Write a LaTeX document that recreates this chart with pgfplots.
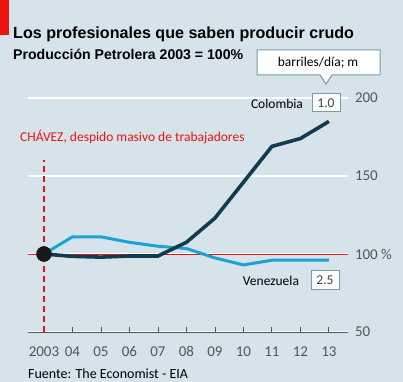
\documentclass[border=0pt]{standalone}
\usepackage{pgfplots}
\pgfplotsset{compat=1.18}
\usepackage{fontspec}
\setmainfont{Carlito}
\newfontfamily\arialfont{Liberation Sans}
\definecolor{bg}{RGB}{214,227,235}
\definecolor{colo}{RGB}{16,60,78}
\definecolor{vene}{RGB}{28,163,214}
\definecolor{ecored}{RGB}{235,20,15}
\definecolor{tickgray}{RGB}{85,85,85}
\definecolor{boxborder}{RGB}{120,155,170}
\begin{document}
\begin{tikzpicture}[x=1bp,y=1bp]
\useasboundingbox (0,0) rectangle (403,382);
\fill[bg] (0,0) rectangle (403,382);
\fill[ecored] (0,347) rectangle (9,382);
\node[anchor=base west, inner sep=0, font=\arialfont\bfseries\fontsize{16.1bp}{18bp}\selectfont] at (13,344) {Los profesionales que saben producir crudo};
\node[anchor=base west, inner sep=0, font=\arialfont\bfseries\fontsize{14.1bp}{16bp}\selectfont] at (13,323) {Producción Petrolera 2003 = 100\%};
\begin{axis}[at={(28bp,50bp)}, anchor=south west, scale only axis,
  width=320bp, height=234bp,
  xmin=2002.44, xmax=2013.67, ymin=50, ymax=200, clip=false,
  axis x line=bottom, axis y line=right,
  x axis line style={-, draw=tickgray, line width=0.8bp},
  y axis line style={draw=none},
  xtick={2003,...,2013},
  xticklabels={2003,04,05,06,07,08,09,10,11,12,13},
  xtick align=inside, major tick length=5bp,
  xtick style={draw=tickgray, line width=0.8bp},
  xticklabel style={anchor=base, yshift=-25bp, text=tickgray, font=\fontsize{15bp}{15bp}\selectfont},
  ytick={50,100,150,200},
  yticklabels={50,100 \%,150,200},
  ytick style={draw=none},
  yticklabel style={anchor=west, xshift=1bp, text=tickgray, font=\fontsize{15bp}{15bp}\selectfont},
  ymajorgrids, grid style={white, line width=1.3bp},
]
\addplot[ecored, line width=0.8bp] coordinates {(2002.44,100) (2013.67,100)};
\addplot[draw=ecored, line width=1.4bp, dash pattern=on 6bp off 4bp] coordinates {(2003,50) (2003,160)};
\addplot[vene, line width=3bp, line join=round] coordinates {
(2003,100) (2004,111) (2005,111) (2006,107.5) (2007,105) (2008,103.5) (2009,97.5) (2010,93) (2011,96) (2012,96) (2013,96)};
\addplot[colo, line width=3.6bp, line join=round] coordinates {
(2003,100) (2004,98.5) (2005,98) (2006,98.7) (2007,98.7) (2008,107.5) (2009,123) (2010,146) (2011,169) (2012,174) (2013,185)};
\addplot[only marks, mark=*, mark size=7.5bp, mark options={fill=black!90, draw=none}] coordinates {(2003,100)};
\end{axis}
\node[anchor=base west, inner sep=0, text=ecored, font=\fontsize{13.5bp}{15bp}\selectfont] at (20,241) {CHÁVEZ, despido masivo de trabajadores};
\node[anchor=base west, inner sep=0, font=\fontsize{14bp}{16bp}\selectfont] at (28,4) {Fuente: The Economist - EIA};
% callout
\draw[boxborder, fill=white, line width=1bp] (257,332) -- (380,332) -- (380,307) -- (332,307) -- (326,298) -- (320,307) -- (257,307) -- cycle;
\node[font=\fontsize{13.5bp}{15bp}\selectfont] at (318,319.5) {barriles/día; m};
% labels
\node[font=\fontsize{13.5bp}{15bp}\selectfont] at (277,278) {Colombia};
\node[draw=boxborder, fill=white!94!bg, line width=1bp, minimum width=28bp, minimum height=18bp, inner sep=0, font=\fontsize{13.5bp}{15bp}\selectfont, text=tickgray!80!black] at (326,279) {1.0};
\node[font=\fontsize{13.5bp}{15bp}\selectfont] at (271,101) {Venezuela};
\node[draw=boxborder, fill=white!94!bg, line width=1bp, minimum width=28bp, minimum height=19bp, inner sep=0, font=\fontsize{13.5bp}{15bp}\selectfont, text=tickgray!80!black] at (325,102) {2.5};
\end{tikzpicture}
\end{document}
